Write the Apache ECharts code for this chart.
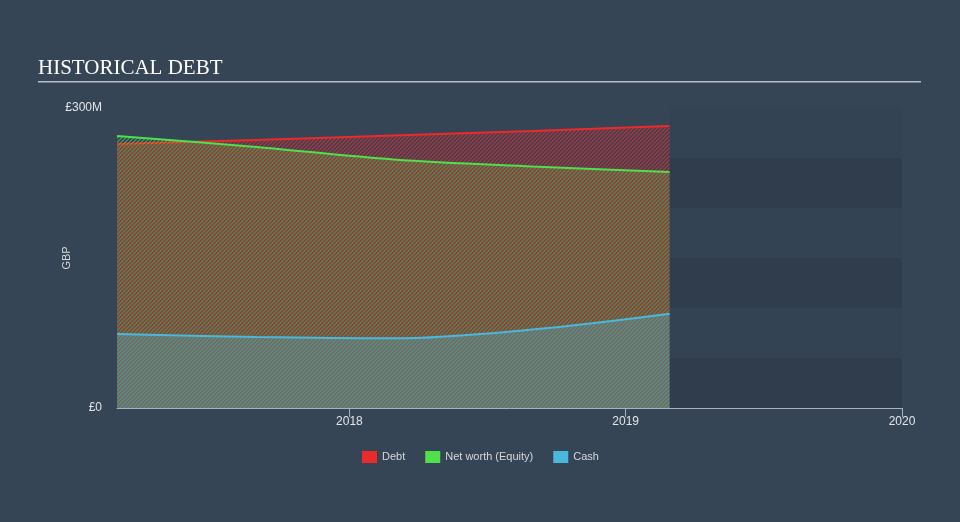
<!DOCTYPE html>
<html><head><meta charset="utf-8">
<script src="https://cdn.jsdelivr.net/npm/echarts@6/dist/echarts.min.js"></script>
<style>html,body{margin:0;padding:0;background:#354555;}#c{width:960px;height:522px;}</style>
</head><body><div id="c"></div>
<script>
var dates = ['2017-02-28', '2017-08-31', '2018-02-28', '2018-08-31', '2019-02-28'];
var debt = [264, 268, 272.5, 277, 282];
var equity = [272, 261, 248.5, 241.5, 236];
var cash = [74, 71, 69.7, 78.5, 94.3];
var yearTicks = [2018, 2019, 2020];
var seriesNames = ['Debt', 'Net worth (Equity)', 'Cash'];
var seriesColors = ['#ec2a2a', '#4fe04a', '#4ab8dc'];
var yMax = 300;
var bandStep = 50;

function yr(s){
  var p = s.split('-'); var y = +p[0];
  var t0 = Date.UTC(y, 0, 1), t1 = Date.UTC(y + 1, 0, 1), t = Date.UTC(y, +p[1]-1, +p[2]);
  return y + (t - t0) / (t1 - t0);
}
// diagonal "/" stripes: pixels where (x+y) mod 4 is in 'slots'
function hatch(color, alpha, slots){
  var c = document.createElement('canvas'); c.width = 4; c.height = 4;
  var g = c.getContext('2d');
  g.fillStyle = color; g.globalAlpha = alpha;
  for (var x = 0; x < 4; x++) for (var y = 0; y < 4; y++) {
    if (slots.indexOf((x + y) % 4) >= 0) g.fillRect(x, y, 1, 1);
  }
  return {image: c, repeat: 'repeat'};
}
var xMin = yr(dates[0]);
var xMax = yearTicks[yearTicks.length-1];
var xEnd = yr(dates[dates.length-1]);
var bands = [];
for (var v = 0; v < yMax; v += bandStep) {
  var dark = (v / bandStep) % 2 === 0;
  bands.push([{xAxis: xEnd, yAxis: v, itemStyle: {color: dark ? 'rgba(20,30,45,0.18)' : 'rgba(20,30,45,0.03)'}}, {xAxis: xMax, yAxis: v + bandStep}]);
}
function mk(vals, i, alpha, slots){
  return {
    name: seriesNames[i], type: 'line', smooth: 0.35, showSymbol: false,
    data: dates.map(function(d, j){ return [yr(d), vals[j]]; }),
    lineStyle: {color: seriesColors[i], width: 2},
    itemStyle: {color: seriesColors[i]},
    areaStyle: {color: hatch(seriesColors[i], alpha, slots), origin: 'start', opacity: 1},
    z: 3 + i
  };
}
var series = [mk(debt, 0, 0.62, [0, 1]), mk(equity, 1, 0.45, [2, 3]), mk(cash, 2, 0.3, [0, 1, 2, 3])];
series.unshift({type: 'line', data: [], markArea: {silent: true, data: bands}, z: 1});
var chart = echarts.init(document.getElementById('c'));
chart.setOption({
  backgroundColor: '#354555',
  animation: false,
  title: {text: 'HISTORICAL DEBT', left: 38, top: 58, padding: 0, textStyle: {fontFamily: 'Liberation Serif', fontWeight: 'normal', fontSize: 21, color: '#ffffff'}},
  graphic: [{type: 'rect', shape: {x: 38, y: 81, width: 883, height: 1.6}, style: {fill: '#b9bec5'}}],
  legend: {data: seriesNames, bottom: 54, left: 357, icon: 'rect', itemWidth: 15, itemHeight: 12, itemGap: 20,
    textStyle: {color: '#d4d8dc', fontSize: 11, fontFamily: 'Liberation Sans'}},
  grid: {left: 117, right: 58, top: 108, bottom: 114},
  xAxis: {type: 'value', min: xMin, max: xMax,
    axisLine: {lineStyle: {color: '#a9b1ba', width: 1}},
    axisTick: {show: true, length: 9, lineStyle: {color: '#a9b1ba'}, customValues: yearTicks},
    axisLabel: {color: '#e2e5e8', fontSize: 12, fontFamily: 'Liberation Sans', margin: 8, customValues: yearTicks,
      formatter: function(v){ return String(Math.round(v)); }},
    splitLine: {show: false}},
  yAxis: {type: 'value', min: 0, max: yMax, interval: yMax,
    name: 'GBP', nameLocation: 'middle', nameGap: 45, nameMoveOverlap: false,
    nameTextStyle: {color: '#d4d8dc', fontSize: 11, fontFamily: 'Liberation Sans'},
    axisLine: {show: false}, axisTick: {show: false}, splitLine: {show: false},
    axisLabel: {color: '#e2e5e8', fontSize: 12, fontFamily: 'Liberation Sans', margin: 15,
      formatter: function(v){ return v === 0 ? '£0' : '£' + v + 'M'; }}},
  series: series
});
</script></body></html>
